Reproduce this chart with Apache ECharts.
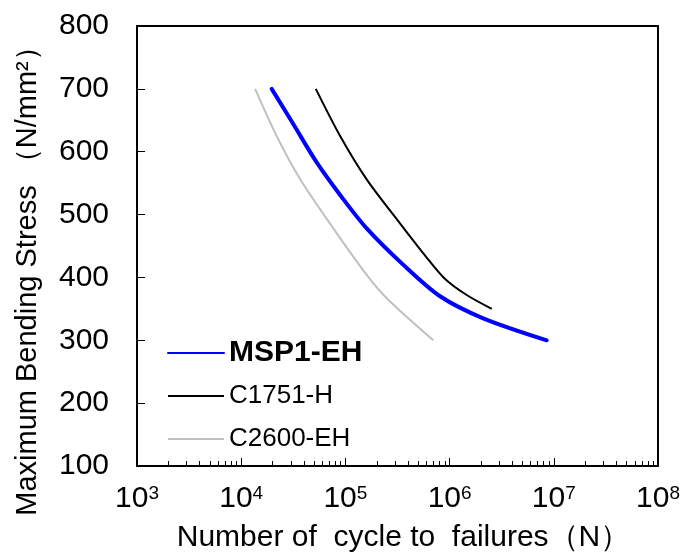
<!DOCTYPE html>
<html>
<head>
<meta charset="utf-8">
<script src="https://cdn.jsdelivr.net/npm/echarts@6/dist/echarts.min.js"></script>
<style>
  html, body { margin: 0; padding: 0; background: #fff; }
  #chart { width: 689px; height: 558px; }
</style>
</head>
<body>
<div id="chart"></div>
<script>
// cycles (N) and stress (N/mm2)
const mspCycles = [1.96e4, 3.16e4, 5.3e4, 9.2e4, 1.6e5, 3.6e5, 8.1e5, 2.1e6, 8.55e6]
const mspStress = [700, 644, 583, 528, 478, 420, 370, 335, 300]
const c1751Cycles = [5.2e4, 8.9e4, 1.6e5, 3.34e5, 6.0e5, 9.0e5, 1.46e6, 2.54e6]
const c1751Stress = [700, 625, 556, 486, 432, 398, 372, 350]
const c2600Cycles = [1.36e4, 2.19e4, 3.66e4, 7.66e4, 1.6e5, 2.49e5, 6.98e5]
const c2600Stress = [700, 625, 557, 478, 404, 367, 300]
const seriesNames = ['MSP1-EH', 'C1751-H', 'C2600-EH']

// minor ticks 2..9 per decade
const minorTicks = []
for (let e = 3; e < 8; e++) {
  for (let k = 2; k <= 9; k++) minorTicks.push(k * Math.pow(10, e))
}

function zip (xs, ys) {
  return xs.map((x, i) => [x, ys[i]])
}

const font = 'Liberation Sans, Arial, sans-serif'
const chart = echarts.init(document.getElementById('chart'))

const option = {
  animation: false,
  textStyle: { fontFamily: font },
  grid: { left: 137, right: 31, top: 26, bottom: 89 },
  legend: {
    orient: 'vertical',
    left: 162,
    top: 333,
    itemWidth: 56,
    itemHeight: 14,
    itemGap: 13,
    itemStyle: { opacity: 0 },
    textStyle: { color: '#000', fontSize: 26, lineHeight: 30, fontFamily: font },
    data: [
      { name: 'MSP1-EH', textStyle: { fontWeight: 'bold', fontSize: 30 } },
      { name: 'C1751-H' },
      { name: 'C2600-EH' }
    ]
  },
  xAxis: [
    {
      type: 'log',
      logBase: 10,
      min: 1e3,
      max: 1e8,
      name: 'Number of  cycle to  failures（N）',
      nameLocation: 'middle',
      nameGap: 57,
      nameTextStyle: { color: '#000', fontSize: 30, fontFamily: font, padding: [0, 0, 0, 12] },
      axisLine: { onZero: false, lineStyle: { color: '#000', width: 2 } },
      axisTick: { show: true, inside: true, length: 8, lineStyle: { color: '#000' } },
      splitLine: { show: false },
      axisLabel: {
        color: '#000',
        fontSize: 30,
        margin: 18,
        formatter: function (v) {
          return '10{sup|' + Math.round(Math.log10(v)) + '}'
        },
        rich: {
          sup: { fontSize: 19, verticalAlign: 'top', lineHeight: 19, padding: [0, 0, 12, 0] }
        }
      }
    },
    {
      type: 'log',
      logBase: 10,
      min: 1e3,
      max: 1e8,
      position: 'bottom',
      axisLine: { show: false },
      axisLabel: { show: false },
      splitLine: { show: false },
      axisTick: {
        show: true,
        inside: true,
        length: 5,
        customValues: minorTicks,
        lineStyle: { color: '#000', width: 1 }
      }
    },
    {
      type: 'log',
      logBase: 10,
      min: 1e3,
      max: 1e8,
      position: 'top',
      axisLine: { show: true, lineStyle: { color: '#000', width: 2 } },
      axisLabel: { show: false },
      axisTick: { show: false },
      splitLine: { show: false }
    }
  ],
  yAxis: [
    {
      type: 'value',
      min: 100,
      max: 800,
      interval: 100,
      name: 'Maximum Bending Stress （N/mm²）',
      nameLocation: 'middle',
      nameGap: 95,
      nameRotate: 90,
      nameTextStyle: { color: '#000', fontSize: 29, fontFamily: font, padding: [0, 56, 0, 0] },
      axisLine: { show: true, lineStyle: { color: '#000', width: 2 } },
      axisTick: { show: true, inside: true, length: 8, lineStyle: { color: '#000' } },
      splitLine: { show: false },
      axisLabel: { color: '#000', fontSize: 30, margin: 28 }
    },
    {
      type: 'value',
      min: 100,
      max: 800,
      position: 'right',
      axisLine: { show: true, lineStyle: { color: '#000', width: 2 } },
      axisTick: { show: false },
      axisLabel: { show: false },
      splitLine: { show: false }
    }
  ],
  series: [
    {
      name: seriesNames[0],
      type: 'line',
      smooth: 0.3,
      showSymbol: false,
      symbol: 'none',
      color: '#0000ff',
      lineStyle: { width: 4, color: '#0000ff', cap: 'round' },
      data: zip(mspCycles, mspStress),
      z: 5
    },
    {
      name: seriesNames[1],
      type: 'line',
      smooth: 0.3,
      showSymbol: false,
      symbol: 'none',
      color: '#000000',
      lineStyle: { width: 2, color: '#000000' },
      data: zip(c1751Cycles, c1751Stress)
    },
    {
      name: seriesNames[2],
      type: 'line',
      smooth: 0.3,
      showSymbol: false,
      symbol: 'none',
      color: '#c0c0c0',
      lineStyle: { width: 2, color: '#c0c0c0' },
      data: zip(c2600Cycles, c2600Stress)
    }
  ]
}

chart.setOption(option)
</script>
</body>
</html>
